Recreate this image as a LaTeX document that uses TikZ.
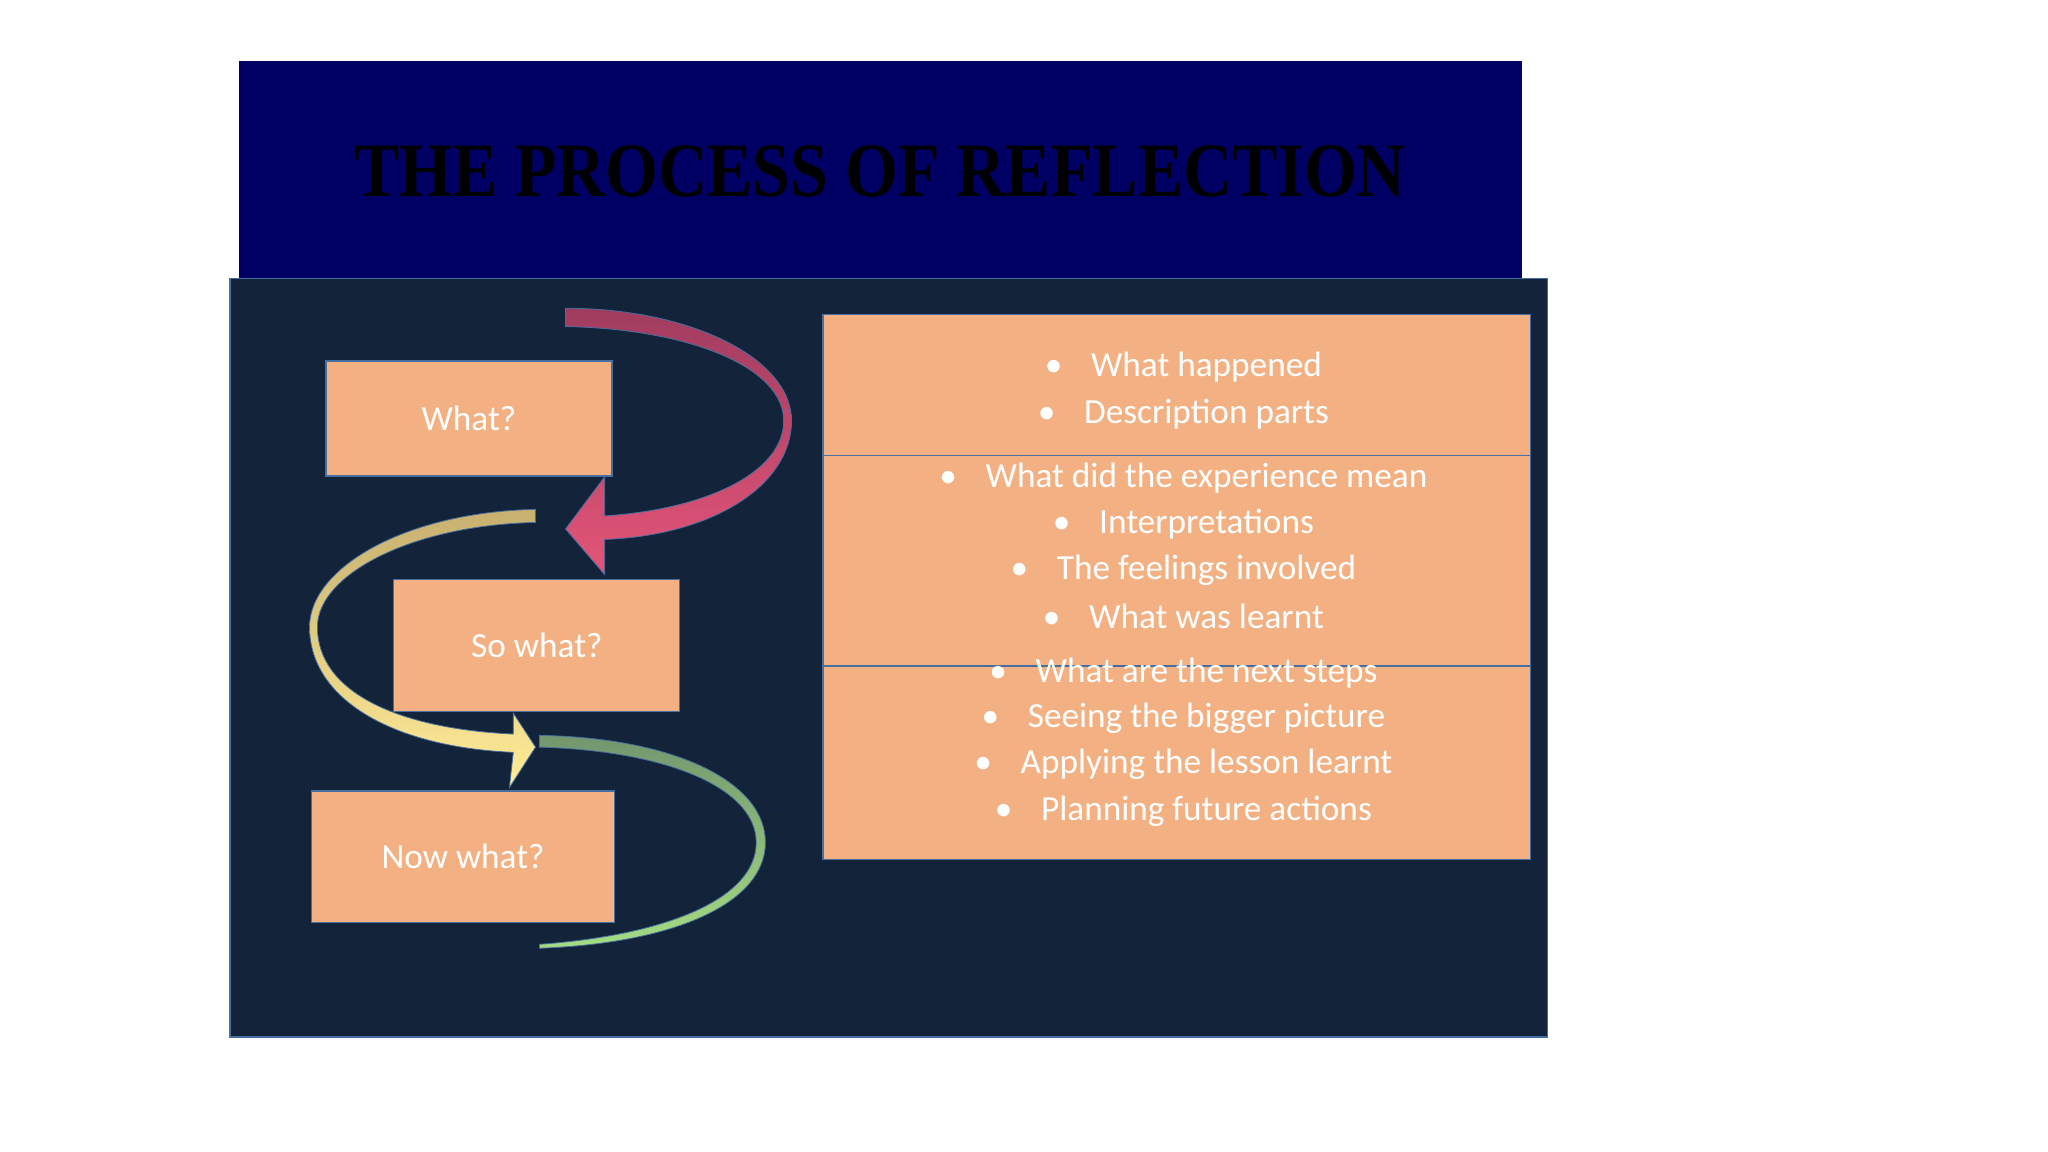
\documentclass[tikz,border=0pt]{standalone}
\usepackage{fontspec}
\setmainfont{Carlito}
\newfontfamily\titlefont{Liberation Serif}
\begin{document}
\begin{tikzpicture}[x=1pt,y=-1pt,
  box/.style={draw=boxedge,line width=1pt,fill=peach,text=white,font=\fontsize{27}{33}\selectfont},
  row/.style={draw=boxedge,line width=1pt,fill=peach}]
\definecolor{navy}{RGB}{0,0,100}
\definecolor{panel}{RGB}{18,35,58}
\definecolor{peach}{RGB}{243,177,131}
\definecolor{boxedge}{RGB}{70,110,160}
\useasboundingbox (0,0) rectangle (1568,882);
\fill[white] (0,0) rectangle (1568,882);
\fill[navy] (183,47) rectangle (1165,213);
\node (title) at (674,131) {\resizebox{805pt}{39pt}{\titlefont\bfseries THE PROCESS OF REFLECTION}};
\draw[fill=panel,draw=boxedge,line width=1pt] (176,213) rectangle (1185,794);
% rows
\draw[row] (630,241) rectangle (1172,349);
\draw[row] (630,349) rectangle (1172,510);
\draw[row] (630,510) rectangle (1172,658);
\newcommand{\bl}[1]{\textbullet\hspace{22pt}#1}
\foreach \yy/\tt in {281/What happened,317/Description parts,366/What did the experience mean,401/Interpretations,437/The feelings involved,472/What was learnt,515/What are the next steps,550/Seeing the bigger picture,585/Applying the lesson learnt,621/Planning future actions}
  \node[text=white,font=\fontsize{27}{33}\selectfont] at (906,\yy) {\bl{\tt}};
% arrows
\shade[top color={rgb,255:red,160;green,60;blue,95},bottom color={rgb,255:red,228;green,85;blue,120},draw=boxedge,line width=0.6pt]
 (433,236) .. controls (530,236) and (606,275) .. (606,322) .. controls (606,372) and (545,410) .. (463,413) -- (463,440) -- (433,405) -- (463,365) -- (463,395) .. controls (540,390) and (600,362) .. (600,322) .. controls (600,282) and (530,252) .. (433,250) -- cycle;
\shade[top color={rgb,255:red,200;green,176;blue,112},bottom color={rgb,255:red,255;green,236;blue,150},draw=boxedge,line width=0.6pt]
 (410,390) .. controls (310,392) and (237,435) .. (237,480) .. controls (237,535) and (300,572) .. (393,576) -- (390,603) -- (410,572) -- (393,546) -- (393,562) .. controls (305,558) and (243,530) .. (243,480) .. controls (243,440) and (315,402) .. (410,400) -- cycle;
\shade[top color={rgb,255:red,115;green,150;blue,110},bottom color={rgb,255:red,165;green,220;blue,130},draw=boxedge,line width=0.6pt]
 (413,563) .. controls (520,565) and (586,600) .. (586,645) .. controls (586,690) and (520,722) .. (413,726) -- (413,723) .. controls (510,716) and (579,688) .. (579,645) .. controls (579,605) and (515,575) .. (413,572) -- cycle;
% left boxes
\node[box,minimum width=219pt,minimum height=88pt,anchor=north west] (what) at (249,276) {What?};
\node[box,minimum width=219pt,minimum height=101pt,anchor=north west] (sowhat) at (301,443) {So what?};
\node[box,minimum width=232pt,minimum height=101pt,anchor=north west] (nowwhat) at (238,605) {Now what?};
\end{tikzpicture}
\end{document}
